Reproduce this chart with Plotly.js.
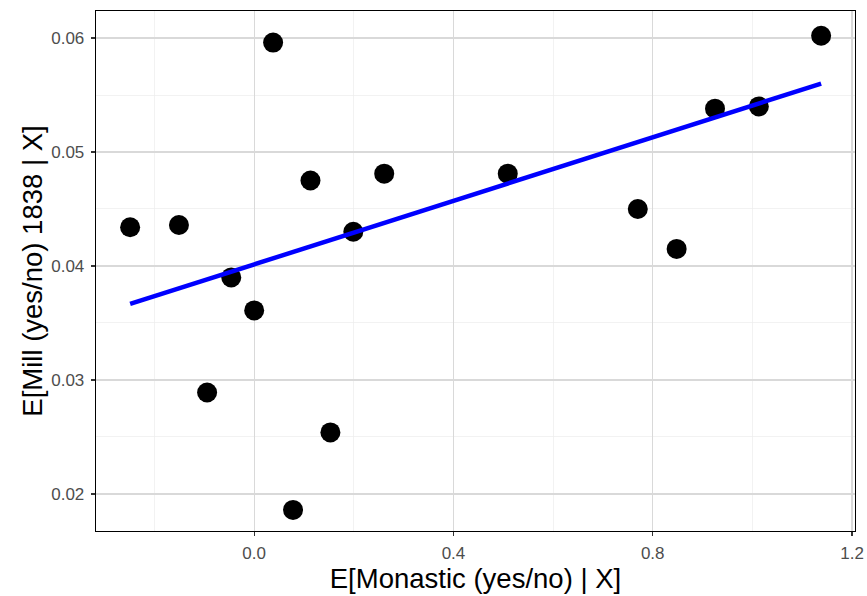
<!DOCTYPE html>
<html><head><meta charset="utf-8">
<script src="https://cdn.plot.ly/plotly-3.0.1.min.js"></script>
<style>html,body{margin:0;padding:0;background:#fff}#chart{width:867px;height:596px}</style>
</head><body><div id="chart"></div>
<script>
const monastic = [-0.249, -0.151, -0.0945, -0.046, 0.0, 0.038, 0.078, 0.113, 0.153, 0.199, 0.261, 0.509, 0.770, 0.848, 0.925, 1.013, 1.138];
const mill = [0.0434, 0.0436, 0.0289, 0.0390, 0.0361, 0.0596, 0.0186, 0.0475, 0.0254, 0.0430, 0.0481, 0.0481, 0.0450, 0.0415, 0.0538, 0.0540, 0.0602];
const fitX = [-0.249, 1.138];
const fitY = [0.03667, 0.0560];
const xTicks = [0.0, 0.4, 0.8, 1.2];
const xTickText = ["0.0", "0.4", "0.8", "1.2"];
const yTicks = [0.02, 0.03, 0.04, 0.05, 0.06];
const yTickText = ["0.02", "0.03", "0.04", "0.05", "0.06"];

const font = "Liberation Sans";
const data = [
  {x: monastic, y: mill, type: "scatter", mode: "markers",
   marker: {color: "#000", size: 20}, hoverinfo: "x+y"},
  {x: fitX, y: fitY, type: "scatter", mode: "lines",
   line: {color: "#0000ff", width: 4.5}}
];
const axisCommon = {
  showline: true, mirror: true, linecolor: "#000", linewidth: 1.3,
  showgrid: true, gridcolor: "#d9d9d9", gridwidth: 1.3,
  zeroline: false, ticks: "outside", ticklen: 4, tickcolor: "#333", tickwidth: 1.1,
  tickfont: {family: font, size: 17, color: "#4d4d4d"},
  tickmode: "array"
};
const layout = {
  width: 867, height: 596,
  margin: {l: 96, r: 12, t: 11, b: 65},
  showlegend: false,
  paper_bgcolor: "#fff", plot_bgcolor: "#fff",
  font: {family: font},
  xaxis: Object.assign({}, axisCommon, {
    range: [-0.3175, 1.206],
    tickvals: xTicks, ticktext: xTickText,
    ticklabelstandoff: 2,
    minor: {tickvals: [-0.2, 0.2, 0.6, 1.0], showgrid: true, gridcolor: "#ececec", gridwidth: 0.7, ticks: ""},
    title: {text: "E[Monastic (yes/no) | X]", font: {family: font, size: 27.5, color: "#000"}, standoff: 2}
  }),
  yaxis: Object.assign({}, axisCommon, {
    range: [0.01675, 0.06237],
    tickvals: yTicks, ticktext: yTickText,
    ticklabelstandoff: 3,
    minor: {tickvals: [0.015, 0.025, 0.035, 0.045, 0.055], showgrid: true, gridcolor: "#ececec", gridwidth: 0.7, ticks: ""},
    title: {text: "E[Mill (yes/no) 1838 | X]", font: {family: font, size: 27.5, color: "#000"}, standoff: 0}
  })
};
Plotly.newPlot("chart", data, layout, {displayModeBar: false, staticPlot: true});
</script></body></html>
